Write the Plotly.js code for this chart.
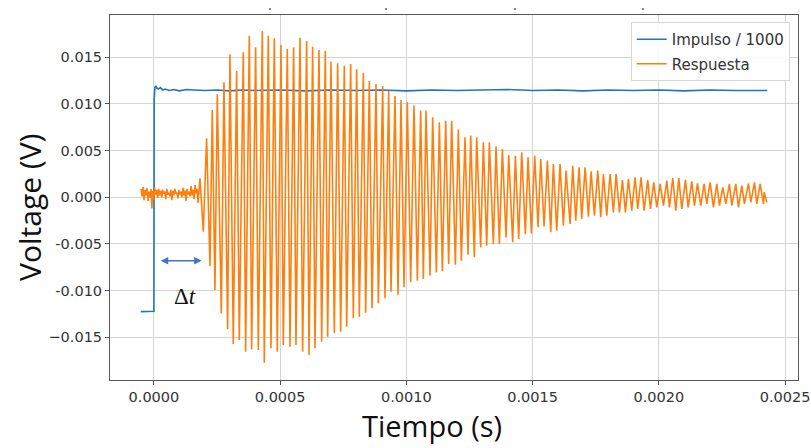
<!DOCTYPE html>
<html>
<head>
<meta charset="utf-8">
<script src="https://cdn.plot.ly/plotly-3.0.1.min.js"></script>
<style>html,body{margin:0;padding:0;background:#fff;}#chart{width:811px;height:448px;}</style>
</head>
<body>
<div id="chart"></div>
<script>
// ---- data (time in microseconds, voltage in millivolts) ----
const impulsoT_us = [-52, -3, 0, 1, 4, 8, 12, 18, 25, 35, 45, 60, 80, 100, 130, 160, 200, 250, 300, 350, 400, 500, 600, 700, 800, 900, 1000, 1100, 1200, 1300, 1400, 1500, 1600, 1700, 1800, 1900, 2000, 2100, 2200, 2300, 2429];
const impulsoV_mV = [-12.25, -12.25, -12.2, 10.5, 11.8, 11.9, 11.7, 11.6, 11.75, 11.5, 11.6, 11.45, 11.55, 11.4, 11.55, 11.5, 11.45, 11.5, 11.4, 11.5, 11.45, 11.5, 11.4, 11.5, 11.45, 11.5, 11.4, 11.5, 11.45, 11.5, 11.55, 11.45, 11.5, 11.4, 11.5, 11.45, 11.5, 11.4, 11.5, 11.45, 11.45];

const respPreT_us = [-51,-47,-43,-39,-35,-31,-27,-23,-19,-15,-11,-8,-5,-1,3,7,11,15,19,23,27,31,35,39,43,47,51,55,59,63,67,71,75,79,83,87,91,95,99,103,107,111,115,119,123,127,131,135,139,143,147,151,155,159,163,167,171,175];
const respPreV_mV = [0.9,0.1,1.1,-0.3,0.8,0.2,1.0,-0.4,0.6,0.0,0.9,-1.2,0.7,-0.2,1.0,0.3,0.8,-0.1,0.9,0.2,0.7,0.0,0.8,0.4,0.6,-0.2,0.9,0.3,0.5,0.1,0.8,-0.3,0.7,0.2,0.9,0.4,0.5,-0.1,0.8,0.3,0.6,0.0,1.0,0.2,0.7,-0.4,0.9,0.3,0.6,0.1,1.2,0.2,0.8,-0.2,1.3,0.4,0.9,-0.6];

const respOscT_us = [182.3,195.5,208.7,221.9,231.1,241.7,250.9,266.8,277.3,291.9,301.1,314.3,327.5,338.1,353.9,363.2,377.7,387.0,402.8,413.4,429.2,437.1,453.0,463.6,476.7,488.6,503.2,512.4,528.3,538.8,553.4,562.6,578.5,589.0,604.9,614.1,628.6,637.9,653.7,664.3,678.8,688.1,701.3,714.5,727.7,739.6,754.1,763.4,779.2,789.7,803.0,813.5,829.4,838.6,853.2,863.7,879.6,888.8,906.0,915.2,929.8,939.0,954.8,966.7,978.6,990.5,1003.7,1016.9,1030.1,1043.3,1056.5,1067.1,1077.6,1093.5,1104.0,1118.6,1130.5,1142.4,1155.6,1167.4,1179.3,1193.9,1205.7,1217.6,1232.2,1244.0,1254.6,1269.1,1278.4,1294.2,1304.8,1318.0,1328.6,1344.4,1355.0,1368.2,1380.1,1394.6,1405.2,1421.0,1431.6,1444.8,1456.7,1471.2,1481.8,1495.0,1508.2,1521.4,1532.0,1545.2,1558.4,1571.6,1582.1,1595.3,1608.6,1621.8,1632.3,1648.2,1658.8,1670.7,1683.9,1694.4,1707.7,1720.9,1731.4,1744.6,1757.8,1769.7,1780.3,1793.5,1806.7,1819.9,1830.5,1843.7,1855.6,1867.5,1879.3,1892.6,1905.8,1916.3,1929.5,1941.4,1955.9,1966.5,1979.7,1991.6,2004.8,2018.0,2031.2,2041.8,2055.0,2066.9,2078.8,2090.7,2105.2,2115.8,2130.3,2140.9,2152.7,2166.0,2179.1,2189.7,2202.9,2216.1,2229.3,2239.9,2253.1,2265.0,2279.5,2288.8,2304.6,2315.2,2328.4,2338.9,2354.8,2364.0,2378.6,2387.8,2401.0,2414.2,2416.9,2427.4];
const respOscV_mV = [2.04,-3.69,6.32,-7.36,9.35,-9.93,11.04,-12.43,12.32,-14.14,15.32,-15.72,13.53,-15.29,15.54,-16.54,17.31,-16.29,16.07,-16.36,17.85,-17.72,17.31,-16.18,17.04,-16.54,16.32,-15.82,15.89,-16.0,16.07,-15.82,17.10,-16.54,16.75,-16.89,16.14,-16.18,15.78,-15.47,15.71,-14.93,14.53,-14.57,14.36,-14.40,14.10,-13.86,14.28,-12.96,13.71,-12.79,13.35,-12.36,12.46,-11.89,12.14,-11.36,11.92,-10.82,11.42,-10.11,10.85,-10.43,10.43,-9.64,10.18,-9.11,9.82,-8.93,9.29,-8.75,9.29,-8.39,8.57,-8.04,8.04,-7.93,8.21,-7.14,8.21,-7.21,7.25,-6.79,6.43,-6.14,6.61,-6.43,6.43,-5.36,5.89,-5.18,5.89,-5.00,5.43,-5.00,5.18,-4.29,4.54,-4.82,4.46,-4.46,4.82,-3.93,4.29,-3.86,4.46,-3.21,4.11,-3.11,3.93,-3.75,3.57,-3.57,3.57,-3.04,2.86,-2.86,3.39,-2.50,3.21,-2.32,3.21,-2.07,2.79,-1.96,2.86,-2.14,2.50,-1.96,2.50,-1.61,2.50,-1.61,1.86,-1.61,1.96,-1.43,2.14,-1.25,2.14,-1.43,1.86,-1.25,1.61,-1.07,1.43,-0.89,1.79,-1.07,2.07,-1.43,2.07,-1.25,1.86,-1.07,1.71,-0.89,1.50,-0.89,1.43,-0.71,1.61,-1.07,1.43,-0.89,1.07,-0.71,1.43,-0.89,1.43,-1.07,1.25,-0.71,1.50,-0.54,1.61,-0.71,1.43,-0.71,0.54,-0.54];

const xTickVals = [0, 0.0005, 0.0010, 0.0015, 0.0020, 0.0025];
const xTickText = ["0.0000", "0.0005", "0.0010", "0.0015", "0.0020", "0.0025"];
const yTickVals = [-0.015, -0.010, -0.005, 0, 0.005, 0.010, 0.015];
const yTickText = ["\u22120.015", "-0.010", "-0.005", "0.000", "0.005", "0.010", "0.015"];
const seriesNames = ["Impulso / 1000", "Respuesta"];

// ---- build traces ----
const us = a => a.map(v => v * 1e-6);
const mV = a => a.map(v => v * 1e-3);
const respT = us(respPreT_us.concat(respOscT_us));
const respV = mV(respPreV_mV.concat(respOscV_mV));

const traces = [
  {x: us(impulsoT_us), y: mV(impulsoV_mV), type: 'scatter', mode: 'lines', name: seriesNames[0],
   legendgroup: 'a', line: {color: '#1f77b4', width: 1.6}},
  {x: respT, y: respV, type: 'scatter', mode: 'lines', name: seriesNames[1],
   legendgroup: 'b', line: {color: '#ff7f0e', width: 1.6}}
];

const axisCommon = {
  showline: true, mirror: true, linecolor: '#555', linewidth: 1,
  showgrid: true, gridcolor: '#d4d4d4', gridwidth: 1, zeroline: false,
  ticks: 'outside', ticklen: 4, tickcolor: '#555', ticklabeloverflow: 'allow',
  tickfont: {family: 'DejaVu Sans', size: 14.5, color: '#333'}
};

const dots = [0.2326, 0.4012, 0.5887, 0.7747].map(px => ({
  type: 'circle', xref: 'paper', yref: 'paper',
  x0: px - 0.0015, x1: px + 0.0015, y0: 1.0135, y1: 1.019,
  fillcolor: '#666', line: {width: 0}
}));

const layout = {
  width: 811, height: 448,
  margin: {l: 110, r: 13, t: 15, b: 68},
  paper_bgcolor: '#fff', plot_bgcolor: '#fff',
  showlegend: true,
  legend: {x: 0.988, y: 0.981, xanchor: 'right', yanchor: 'top',
    bgcolor: 'rgba(255,255,255,0.85)', bordercolor: '#d6d6d6', borderwidth: 1,
    font: {family: 'DejaVu Sans', size: 15, color: '#333'}, tracegroupgap: 2},
  xaxis: Object.assign({}, axisCommon, {range: [-0.000174, 0.002551],
    tickvals: xTickVals, ticktext: xTickText}),
  yaxis: Object.assign({}, axisCommon, {range: [-0.01957, 0.01953],
    tickvals: yTickVals, ticktext: yTickText}),
  shapes: dots,
  annotations: [
    {xref: 'paper', yref: 'paper', x: -0.1163, y: 0.474, text: 'Voltage (V)', textangle: -90,
     showarrow: false, xanchor: 'center', yanchor: 'middle',
     font: {family: 'Open Sans', size: 30, color: '#111'}},
    {xref: 'paper', yref: 'paper', x: 0.468, y: -0.126, text: 'Tiempo (s)',
     showarrow: false, xanchor: 'center', yanchor: 'middle',
     font: {family: 'Open Sans', size: 29, color: '#111'}},
    {xref: 'x', yref: 'y', x: 189e-6, y: -6.79e-3, axref: 'x', ayref: 'y', ax: 21e-6, ay: -6.79e-3,
     text: '', showarrow: true, arrowside: 'end+start', arrowhead: 2, arrowsize: 1,
     arrowwidth: 1.5, arrowcolor: '#4472c4'},
    {xref: 'x', yref: 'y', x: 123e-6, y: -10.6e-3, text: '\u0394<i>t</i>', showarrow: false,
     font: {family: 'Liberation Serif', size: 23, color: '#111'}}
  ]
};

Plotly.newPlot('chart', traces, layout, {displayModeBar: false, staticPlot: true});
</script>
</body>
</html>
